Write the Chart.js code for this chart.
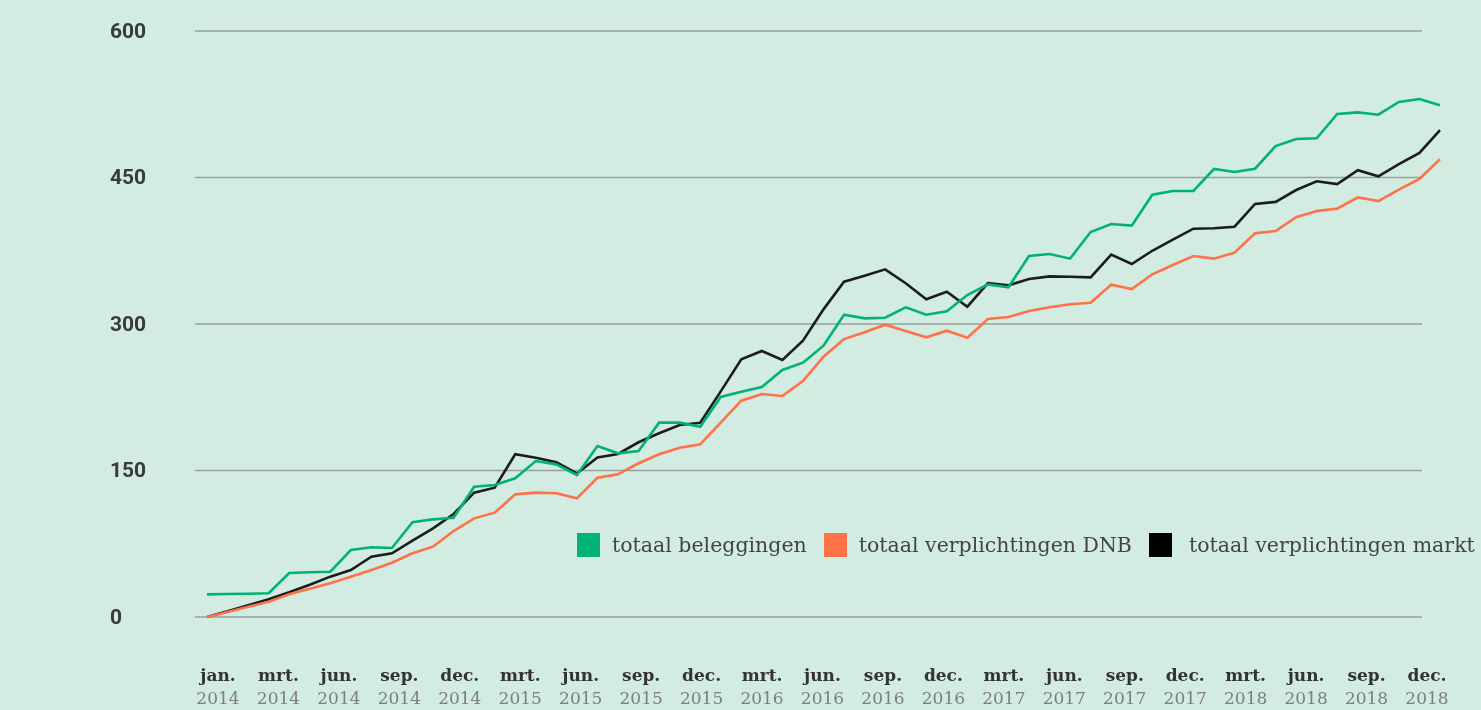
<!DOCTYPE html>
<html>
<head>
<meta charset="utf-8">
<script src="https://cdn.jsdelivr.net/npm/chart.js@4.4.1/dist/chart.umd.min.js"></script>
<style>
html,body{margin:0;padding:0;background:#d2ece2;}
#wrap{position:relative;width:1481px;height:710px;overflow:hidden;}
#legend{position:absolute;left:577px;top:533px;display:flex;align-items:center;font-family:'DejaVu Serif',serif;font-size:20.5px;color:#444;white-space:nowrap;line-height:24px;}
.item{display:flex;align-items:center;margin-right:17px;}
.sw{width:23px;height:24px;margin-right:12px;flex:none;}
.item:last-child .sw{margin-right:17px;}
</style>
</head>
<body>
<div id="wrap"><canvas id="c" width="1481" height="710"></canvas><div id="legend"></div></div>
<script>
// categories (monthly observations)
const months = [
 'dec 2013',
 'jan 2014','feb 2014','mrt 2014','apr 2014','mei 2014','jun 2014','jul 2014','aug 2014','sep 2014','okt 2014','nov 2014','dec 2014',
 'jan 2015','feb 2015','mrt 2015','apr 2015','mei 2015','jun 2015','jul 2015','aug 2015','sep 2015','okt 2015','nov 2015','dec 2015',
 'jan 2016','feb 2016','mrt 2016','apr 2016','mei 2016','jun 2016','jul 2016','aug 2016','sep 2016','okt 2016','nov 2016','dec 2016',
 'jan 2017','feb 2017','mrt 2017','apr 2017','mei 2017','jun 2017','jul 2017','aug 2017','sep 2017','okt 2017','nov 2017','dec 2017',
 'jan 2018','feb 2018','mrt 2018','apr 2018','mei 2018','jun 2018','jul 2018','aug 2018','sep 2018','okt 2018','nov 2018','dec 2018'
];

// series values
const totaalBeleggingen = [
 23.2, 23.5, 23.8, 24.3, 45, 45.8, 46.4, 68.6, 71.4, 70.6,
 97, 100, 101.7, 133.4, 135.2, 142, 159.7, 156.3, 145.4, 175,
 167.6, 170, 199, 199, 194.8, 225.3, 230.7, 235.5, 252.9, 260.4,
 277.8, 309.5, 305.8, 306.4, 317.1, 309.5, 313, 329.7, 340.6, 337.6,
 369.6, 371.7, 366.9, 394.2, 402.4, 400.7, 432.4, 436.2, 436.2, 458.7,
 455.6, 459, 482.2, 489.4, 490.1, 515, 516.7, 514.3, 527.3, 530.4,
 523.9
];
const totaalVerplichtingenDNB = [
 0, 5.2, 10.4, 15.7, 23.2, 29, 34.5, 41.3, 48.1, 55.6,
 65.2, 72, 88, 101, 106.8, 125.6, 127.3, 126.7, 121.5, 142.6,
 146.1, 157.4, 166.6, 173.4, 176.8, 199, 221.5, 228.3, 226.3, 241.6,
 266.5, 284.6, 291.5, 299.3, 292.8, 286.4, 293.1, 286, 305.1, 307.2,
 313.3, 317.1, 320.2, 321.8, 340.2, 335.8, 350.9, 360.4, 369.6, 366.9,
 373, 392.9, 395.2, 409.3, 415.7, 418.1, 429.7, 425.9, 437.5, 448.5,
 468.7
];
const totaalVerplichtingenMarkt = [
 0, 6, 12, 18.2, 25.3, 33, 41.3, 48.1, 61.7, 65.2,
 78.1, 90.8, 105.5, 127.3, 132.4, 166.6, 163.1, 158.4, 147, 163.3,
 166.9, 178.9, 188.1, 196.6, 198.9, 231, 263.8, 272.4, 263.1, 282.9,
 315, 343.3, 349.5, 356, 341.7, 325.4, 333.1, 317.7, 341.8, 339.6,
 346.1, 348.8, 348.4, 347.8, 371, 361.4, 375, 386.3, 397.6, 398,
 399.6, 422.9, 425, 437.2, 446.1, 443.3, 457.4, 451.2, 463.8, 475.1,
 498.6
];

// tick labels
const tickMonths = ['jan.','mrt.','jun.','sep.','dec.','mrt.','jun.','sep.','dec.','mrt.','jun.','sep.','dec.','mrt.','jun.','sep.','dec.','mrt.','jun.','sep.','dec.'];
const tickYears  = ['2014','2014','2014','2014','2014','2015','2015','2015','2015','2016','2016','2016','2016','2017','2017','2017','2017','2018','2018','2018','2018'];
const yTicks = [0, 150, 300, 450, 600];

const seriesNames = ['totaal beleggingen','totaal verplichtingen DNB','totaal verplichtingen markt'];
const seriesColors = ['#00b274','#ff7147','#1c1c1c'];
const legendColors = ['#00b274','#ff7147','#000000'];

const gridPlugin = {
  id: 'customGrid',
  beforeDatasetsDraw(chart) {
    const {ctx, chartArea, scales} = chart;
    const y = scales.y;
    ctx.save();
    ctx.strokeStyle = '#9aa09d';
    ctx.lineWidth = 1.5;
    yTicks.forEach(v => {
      const py = y.getPixelForValue(v);
      ctx.beginPath();
      ctx.moveTo(chartArea.left - 12, py);
      ctx.lineTo(chartArea.right - 18, py);
      ctx.stroke();
    });
    ctx.restore();
  }
};

const labelAxis = (labels, weight, pad, font, color) => ({
  type: 'linear',
  position: 'bottom',
  weight: weight,
  min: -0.182,
  max: 20.215,
  afterBuildTicks(s) { s.ticks = labels.map((_, i) => ({value: i})); },
  afterFit(s) {
    s.height = s.height - s.options.ticks.padding;
    s.paddingLeft = 0; s.paddingRight = 0;
  },
  ticks: {
    autoSkip: false, maxRotation: 0, minRotation: 0, padding: pad,
    color: color, font: font,
    callback: (v) => labels[v]
  },
  grid: {display: false, drawTicks: false},
  border: {display: false}
});

const chart = new Chart(document.getElementById('c'), {
  type: 'line',
  data: {
    labels: months,
    datasets: [
      {label: seriesNames[0], data: totaalBeleggingen, borderColor: seriesColors[0], backgroundColor: legendColors[0]},
      {label: seriesNames[1], data: totaalVerplichtingenDNB, borderColor: seriesColors[1], backgroundColor: legendColors[1]},
      {label: seriesNames[2], data: totaalVerplichtingenMarkt, borderColor: seriesColors[2], backgroundColor: legendColors[2]}
    ].map(d => Object.assign(d, {borderWidth: 2.6, pointRadius: 0, tension: 0, fill: false, clip: false}))
  },
  options: {
    responsive: false,
    devicePixelRatio: 1,
    animation: false,
    layout: {padding: {left: 110, right: 41, top: 31, bottom: 0}},
    plugins: {legend: {display: false}, tooltip: {enabled: false}},
    scales: {
      x: {type: 'category', display: false},
      y: {
        min: 0, max: 600,
        afterBuildTicks(s) { s.ticks = yTicks.map(v => ({value: v})); },
        afterFit(s) { s.width = 97; },
        ticks: {crossAlign: 'far', padding: 0, labelOffset: 1.5, color: '#3a3a3a', font: {family: 'Roboto', weight: 'bold', size: 21}},
        grid: {display: false, drawTicks: false},
        border: {display: false}
      },
      x2: labelAxis(tickMonths, 1, 49, {family: 'DejaVu Serif', weight: 'bold', size: 17, lineHeight: 1.2}, '#333333'),
      x3: labelAxis(tickYears, 2, 3.2, {family: 'DejaVu Serif', weight: 'normal', size: 17, lineHeight: 1.2}, '#7d7d7d')
    }
  },
  plugins: [gridPlugin]
});

// HTML legend built from the chart's datasets
const leg = document.getElementById('legend');
chart.data.datasets.forEach(ds => {
  const item = document.createElement('div'); item.className = 'item';
  const sw = document.createElement('span'); sw.className = 'sw'; sw.style.background = ds.backgroundColor;
  const tx = document.createElement('span'); tx.textContent = ds.label;
  item.appendChild(sw); item.appendChild(tx); leg.appendChild(item);
});
</script>
</body>
</html>
